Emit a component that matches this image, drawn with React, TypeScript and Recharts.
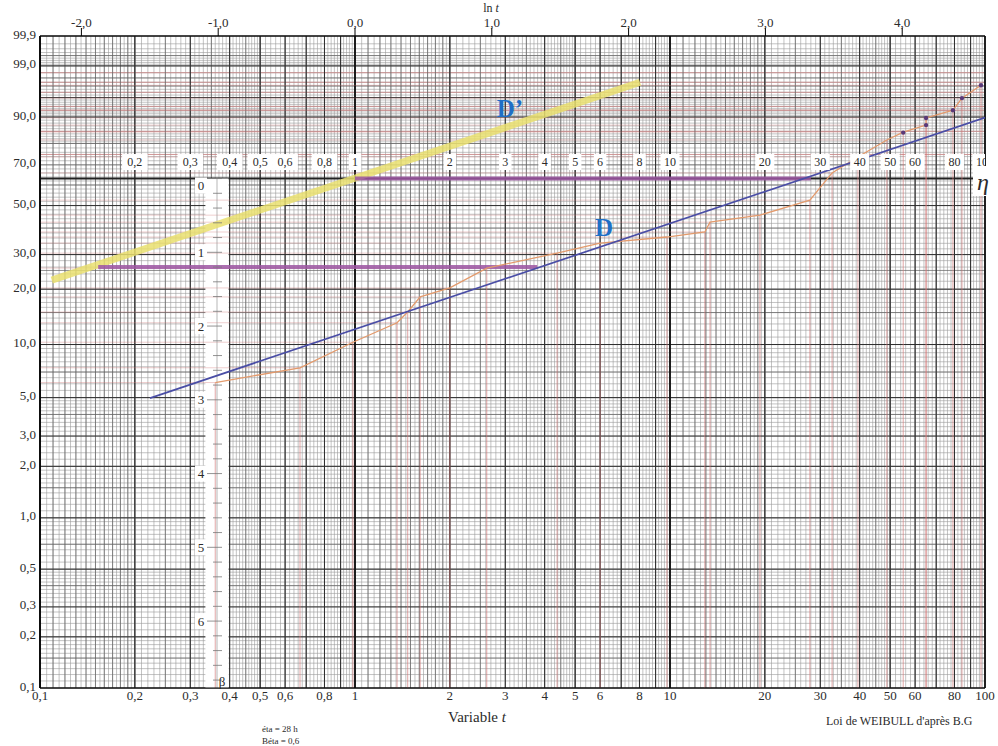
import React from 'react';
import { ComposedChart, XAxis, YAxis, CartesianGrid, Line, Scatter, ReferenceArea, ReferenceLine } from 'recharts';

// ---------- data (t in hours, F in %) ----------
const obsT = [0.36, 0.669, 0.985, 1.36, 1.47, 1.61, 2.0, 2.62, 4.38, 6.0, 9.78, 12.9, 13.4, 19.3, 27.8, 32.7, 39.5, 48.8, 55.0, 65.0, 65.0, 79.1, 84.5, 97.1];
const obsF = [6.1, 7.4, 10.3, 13.2, 15.1, 18.2, 20.3, 25.7, 30.5, 34.1, 36.4, 38.4, 42.5, 45.6, 52.6, 66.0, 73.8, 81.5, 84.7, 87.3, 89.7, 92.0, 94.9, 97.1];
const markT = [55.0, 65.0, 65.0, 79.1, 84.5, 97.1];
const markF = [84.5, 87.3, 89.7, 92.0, 94.9, 97.1];
const lineDT = [0.2235, 100];
const lineDF = [4.97, 89.8];
const lineDpT = [0.109, 8.03];
const lineDpF = [22.3, 97.5];
const etaT = [1, 28];
const etaF = [63.2, 63.2];
const betaT = [0.153, 3.79];
const betaF = [26.0, 26.0];

const bottomTicks = [0.1, 0.2, 0.3, 0.4, 0.5, 0.6, 0.8, 1, 2, 3, 4, 5, 6, 8, 10, 20, 30, 40, 50, 60, 80, 100];
const topTicksLn = [-2, -1, 0, 1, 2, 3, 4];
const yTickF = [0.1, 0.2, 0.3, 0.5, 1, 2, 3, 5, 10, 20, 30, 50, 70, 90, 99, 99.9];
const innerLabelT = [0.2, 0.3, 0.4, 0.5, 0.6, 0.8, 1, 2, 3, 4, 5, 6, 8, 10, 20, 30, 40, 50, 60, 80, 100];
const betaLabels = [0, 1, 2, 3, 4, 5, 6];

// ---------- helpers ----------
const wb = (F: number) => Math.log(-Math.log(1 - F / 100));
const invWb = (v: number) => 100 * (1 - Math.exp(-Math.exp(v)));
const comma = (n: number) => String(n).replace('.', ',');
const range = (a: number, b: number, s: number) => {
  const out: number[] = [];
  const n = Math.round((b - a) / s);
  for (let i = 0; i <= n; i++) out.push(+(a + i * s).toFixed(6));
  return out;
};
const Y_MIN = wb(0.1);
const Y_MAX = wb(99.9);
const T_MIN = 0.1;
const T_MAX = 100;

const pts = (ts: number[], fs: number[]) => ts.map((t, i) => ({ t, y: wb(fs[i]) }));
const obsData = pts(obsT, obsF);
const markData = pts(markT, markF);
const dData = pts(lineDT, lineDF);
const dpData = pts(lineDpT, lineDpF);
const etaData = pts(etaT, etaF);
const betaData = pts(betaT, betaF);

// grid values
const decades = [0.1, 1, 10];
const vFine = decades.flatMap((b) => [...range(1, 2, 0.05), ...range(2, 5, 0.1), ...range(5, 10, 0.2)].map((m) => +(m * b).toFixed(6)));
const vMed = decades.flatMap((b) => [...range(1, 2, 0.1), ...range(2, 5, 0.5), ...range(5, 10, 1)].map((m) => +(m * b).toFixed(6)));
const vBold = decades.flatMap((b) => [2, 3, 4, 5, 6, 7, 8, 9].map((m) => +(m * b).toFixed(6)));
const vDecade = [0.1, 1, 10, 100];
const hFine = [
  ...range(0.1, 0.2, 0.01), ...range(0.2, 0.5, 0.02), ...range(0.5, 1, 0.05), ...range(1, 2, 0.1),
  ...range(2, 5, 0.2), ...range(5, 10, 0.5), ...range(10, 20, 1), ...range(20, 80, 2),
  ...range(80, 90, 1), ...range(90, 99, 0.5), ...range(99, 99.9, 0.1),
].map(wb);
const hMed = [0.15, 0.4, 0.7, 1.5, 4, 7, 15, 25, 40, 60, 70, 80, 97, 98, 99.5].map(wb);
const hRed = [75, 85, 92, 93, 96, 97.5, 98.5].map(wb);
const hBold = [0.1, 0.2, 0.3, 0.5, 1, 2, 3, 5, 10, 20, 30, 50, 90, 95, 99, 99.9].map(wb);
const hEta = [0];

const innerRowY = 0.224;
const innerData = innerLabelT.map((t) => ({ t, y: innerRowY, label: comma(t) }));
const betaScaleT = 0.3647;
const betaTickData = range(0, 6.8, 0.2).map((k) => ({ t: betaScaleT, y: -k, major: Math.abs(k - Math.round(k)) < 1e-6 }));
const betaLabelData = betaLabels.map((k) => ({ t: 0.3245, y: -k, label: String(k) }));

const FONT = '"Liberation Serif", "DejaVu Serif", serif';
const TXT = '#2b2b2b';

const YTick = (p: any) => (
  <text x={p.x} y={p.y - 2} textAnchor="end" dominantBaseline="central" fontSize={13} fill={TXT} fontFamily={FONT}>
    {invWb(p.payload.value).toFixed(1).replace('.', ',')}
  </text>
);

const InnerLabel = (p: any) => {
  const label = p.payload.label as string;
  const w = label.length * 6.5 + 6;
  return (
    <g>
      <rect x={p.cx - w / 2} y={p.cy - 8} width={w} height={16} fill="#fff" />
      <text x={p.cx} y={p.cy} textAnchor="middle" dominantBaseline="central" fontSize={12} fill={TXT} fontFamily={FONT}>{label}</text>
    </g>
  );
};

const BetaLabel = (p: any) => {
  const label = p.payload.label as string;
  const cy = label === '0' ? p.cy + 7 : p.cy;
  return (
    <g>
      <rect x={p.cx - 6} y={cy - 8} width={12} height={16} fill="#fff" />
      <text x={p.cx} y={cy} textAnchor="middle" dominantBaseline="central" fontSize={13} fill={TXT} fontFamily={FONT}>{label}</text>
    </g>
  );
};

const BetaTick = (p: any) => {
  const major = p.payload.major;
  return <line x1={major ? p.cx - 10 : p.cx - 4} x2={p.cx + 5} y1={p.cy} y2={p.cy} stroke="#777" strokeWidth={0.8} />;
};

const Dot = (p: any) => <circle cx={p.cx} cy={p.cy} r={2.2} fill="#5b3a78" />;

export default function App() {
  return (
    <div style={{ position: 'absolute', left: 0, top: 0, width: 998, height: 746, background: '#fff' }}>
      <ComposedChart width={998} height={746} margin={{ top: 0, right: 13, bottom: 28, left: 0 }} style={{ fontFamily: FONT }}>
        <CartesianGrid horizontal={false} verticalValues={vFine} stroke="#9a9a9a" strokeWidth={0.6} />
        <CartesianGrid vertical={false} horizontalValues={hFine} stroke="#9a9a9a" strokeWidth={0.6} />
        <CartesianGrid vertical={false} horizontalValues={hRed} stroke="#c98a8a" strokeWidth={0.9} />
        <CartesianGrid horizontal={false} verticalValues={vMed} stroke="#606060" strokeWidth={0.7} />
        <CartesianGrid vertical={false} horizontalValues={hMed} stroke="#606060" strokeWidth={0.7} />
        <CartesianGrid horizontal={false} verticalValues={vBold} stroke="#2e2e2e" strokeWidth={1} />
        <CartesianGrid vertical={false} horizontalValues={hBold} stroke="#2e2e2e" strokeWidth={1} />
        <CartesianGrid horizontal={false} verticalValues={vDecade} stroke="#111" strokeWidth={1.8} />
        <CartesianGrid vertical={false} horizontalValues={hEta} stroke="#222" strokeWidth={2} />

        <XAxis
          dataKey="t" type="number" scale="log" domain={[T_MIN, T_MAX]} allowDataOverflow
          ticks={bottomTicks} interval={0} tickFormatter={comma}
          tickLine={false} tickSize={0} tickMargin={3} height={30}
          axisLine={{ stroke: '#000', strokeWidth: 1.2 }}
          tick={{ fontSize: 13, fill: TXT, fontFamily: FONT }}
        />
        <XAxis
          xAxisId="top" orientation="top" dataKey="t" type="number" scale="log" domain={[T_MIN, T_MAX]} allowDataOverflow
          ticks={topTicksLn.map((k) => Math.exp(k))} interval={0}
          tickFormatter={(v: number) => Math.log(v).toFixed(1).replace('.', ',')}
          tickSize={8} tickMargin={1} height={36}
          tickLine={{ stroke: '#000' }}
          axisLine={{ stroke: '#000', strokeWidth: 1.2 }}
          tick={{ fontSize: 13, fill: TXT, fontFamily: FONT }}
        />
        <YAxis
          type="number" domain={[Y_MIN, Y_MAX]} allowDataOverflow width={40}
          ticks={yTickF.map(wb)} interval={0} tickLine={false} tickSize={0} tickMargin={4}
          axisLine={{ stroke: '#000', strokeWidth: 1.2 }} tick={<YTick />}
        />

        {obsData.map((d, i) => (
          <ReferenceLine key={'v' + i} segment={[{ x: d.t, y: d.y }, { x: d.t, y: Y_MIN }]} stroke="#d07575" strokeWidth={0.8} strokeOpacity={0.8} />
        ))}
        {obsData.map((d, i) => (
          <ReferenceLine key={'h' + i} segment={[{ x: T_MIN, y: d.y }, { x: d.t, y: d.y }]} stroke="#d07575" strokeWidth={0.8} strokeOpacity={0.45} />
        ))}

        <ReferenceArea x1={0.335} x2={0.397} y1={Y_MIN} y2={0} fill="#fff" fillOpacity={1} stroke="none" />
        <ReferenceLine segment={[{ x: betaScaleT, y: 0 }, { x: betaScaleT, y: Y_MIN }]} stroke="#999" strokeWidth={0.7} />

        <Line xAxisId="top" data={dpData} dataKey="y" stroke="none" dot={false} isAnimationActive={false} legendType="none" />
        <Line data={dpData} dataKey="y" stroke="#e9df6e" strokeWidth={7} strokeOpacity={0.85} dot={false} isAnimationActive={false} />
        <Line data={etaData} dataKey="y" stroke="#9d57a3" strokeWidth={4} strokeOpacity={0.85} dot={false} isAnimationActive={false} />
        <Line data={betaData} dataKey="y" stroke="#9d57a3" strokeWidth={4} strokeOpacity={0.85} dot={false} isAnimationActive={false} />
        <Line data={obsData} dataKey="y" stroke="#e39a6c" strokeWidth={1.3} dot={false} isAnimationActive={false} />
        <Line data={dData} dataKey="y" stroke="#4a4ea6" strokeWidth={1.7} dot={false} isAnimationActive={false} />
        <Scatter data={markData} dataKey="y" shape={<Dot />} isAnimationActive={false} />
        <Scatter data={innerData} dataKey="y" shape={<InnerLabel />} isAnimationActive={false} />
        <Scatter data={betaTickData} dataKey="y" shape={<BetaTick />} isAnimationActive={false} />
        <Scatter data={betaLabelData} dataKey="y" shape={<BetaLabel />} isAnimationActive={false} />
      </ComposedChart>

      <svg width={998} height={746} style={{ position: 'absolute', left: 0, top: 0, pointerEvents: 'none' }} fontFamily={FONT}>
        <text x={491} y={8} textAnchor="middle" dominantBaseline="central" fontSize={12} fill={TXT}>
          ln <tspan fontStyle="italic">t</tspan>
        </text>
        <text x={477} y={717} textAnchor="middle" dominantBaseline="central" fontSize={15} fill={TXT}>
          Variable  <tspan fontStyle="italic">t</tspan>
        </text>
        <text x={262} y={729} fontSize={9} fill={TXT} dominantBaseline="central">éta = 28 h</text>
        <text x={262} y={741} fontSize={9} fill={TXT} dominantBaseline="central">Béta = 0,6</text>
        <text x={826} y={721} fontSize={12} fill={TXT} dominantBaseline="central">Loi  de WEIBULL d'après B.G</text>
        <text x={510} y={108} textAnchor="middle" dominantBaseline="central" fontSize={25} fontWeight="bold" fill="#1f6fc6">D’</text>
        <text x={604} y={227} textAnchor="middle" dominantBaseline="central" fontSize={25} fontWeight="bold" fill="#1f6fc6">D</text>
        <rect x={973} y={166} width={20} height={30} fill="#fff" />
        <text x={983} y={182} textAnchor="middle" dominantBaseline="central" fontSize={24} fontStyle="italic" fill={TXT}>η</text>
        <text x={222} y={681} textAnchor="middle" dominantBaseline="central" fontSize={13} fill={TXT}>β</text>
      </svg>
    </div>
  );
}
